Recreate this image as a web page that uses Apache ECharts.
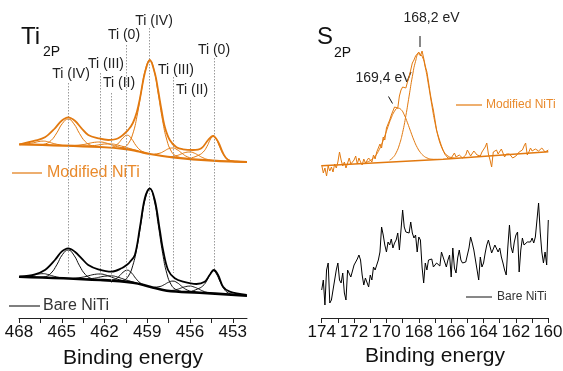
<!DOCTYPE html>
<html>
<head>
<meta charset="utf-8">
<script src="https://cdn.jsdelivr.net/npm/echarts@6/dist/echarts.min.js"></script>
<style>
  html, body { margin: 0; padding: 0; background: #fff; }
  #chart { width: 563px; height: 371px; }
</style>
</head>
<body>
<div id="chart"></div>
<script>
// ---- Ti 2p panel (binding energy eV, intensity a.u.) ----
const tiTicks = [468, 465, 462, 459, 456, 453]
const tiMinorTicks = [468, 466.5, 465, 463.5, 462, 460.5, 459, 457.5, 456, 454.5, 453]

const modEnvelope = [[467.93,173.7],[466.88,177.3],[466.18,180.7],[465.48,189.7],[465.01,197.3],[464.55,200.7],[464.08,197.3],[463.61,189.7],[463.14,183],[462.44,179.7],[461.74,178],[461.04,179.7],[460.34,188],[460.01,195],[459.73,206],[459.52,219],[459.17,245],[458.82,258],[458.47,245],[458.24,228],[458.0,208],[457.77,191.3],[457.42,178],[456.95,170.7],[456.49,168.7],[455.79,168],[455.2,169.7],[454.73,178],[454.38,182],[454.03,176.3],[453.68,164.7],[453.33,158],[452.74,156.3],[452.02,156]]
const modBg = [[468,173.7],[462.3,171],[460.36,168.7],[459.6,166.5],[458.82,164],[457.2,160.7],[454.4,157.3],[452,156]]
const modSmall = [[467.6,173.9],[467.0,175.2],[466.6,176.5],[466.3,176.9],[466.0,176.3],[465.6,174.6],[465.0,172.7]]
const modIVa = [[466.55,173.2],[466.15,174.1],[465.75,177.5],[465.35,185.1],[464.95,194.6],[464.55,199],[464.15,194.2],[463.75,184.4],[463.35,176.4],[462.95,172.6],[462.55,171.3]]
const modIIIa = [[464.3,172.3],[463.5,173.4],[463.1,174.6],[462.7,175.7],[462.3,176],[461.9,175],[461.5,173.2],[461.1,171.4],[460.3,168.9]]
const modIIa = [[463.5,171.9],[462.7,172.5],[462.3,173.4],[461.9,174.0],[461.5,174.0],[461.1,173.0],[460.7,171.5],[460.3,169.8],[459.5,166.3]]
const mod0a = [[461.6,170.5],[461.3,171.6],[461.0,175.1],[460.7,180.2],[460.4,182.8],[460.1,179.1],[459.8,172.7],[459.5,168.0],[459.2,165.6]]
const modIVb = [[461.02,169.8],[460.62,170.8],[460.32,174.6],[460.02,183.9],[459.72,201.7],[459.42,226.3],[459.12,249.1],[458.82,258],[458.52,247.6],[458.22,223.3],[457.92,197.2],[457.62,177.8],[457.32,166.9],[457.02,162.3],[456.62,160.3]]
const modIIIb = [[458.5,163.9],[458.1,164.9],[457.8,167.0],[457.5,169.3],[457.2,170.0],[456.9,168.3],[456.6,165.1],[456.3,162.0],[455.9,159.7]]
const modIIb = [[457.7,161.4],[457.3,161.4],[456.9,162.5],[456.6,164.1],[456.3,165.6],[456.0,166.0],[455.7,164.9],[455.4,162.6],[455.1,160.3],[454.7,158.3],[454.3,157.3]]
const mod0b = [[455.9,160.1],[455.5,162.1],[455.1,165.6],[454.8,171.8],[454.6,177.8],[454.38,182.0],[454.15,178.7],[453.9,170.5],[453.6,162.3],[453.3,158.2],[452.9,156.7]]

const bareEnvelope = [[467.93,41.3],[466.88,43.7],[466.18,48],[465.48,58],[465.01,66.3],[464.55,69.7],[464.08,66.3],[463.61,59.7],[463.14,53],[462.44,48.7],[461.5,46.3],[460.8,49.7],[460.4,53.5],[460.22,56],[459.87,63],[459.52,90],[459.17,119.7],[458.82,129.7],[458.47,118],[458.12,88],[457.89,68],[457.54,48],[457.07,39.7],[456.49,36.3],[455.55,34],[454.97,36.3],[454.62,43],[454.33,48],[454.03,43],[453.68,31.3],[453.21,26.3],[452.02,23]]
const bareBg = [[468,41.3],[462.3,38],[460.0,35.3],[458.82,31.3],[457.63,27.3],[455.32,25.3],[452,22.3]]
const bareSmall = [[467.6,41.5],[467.0,42.7],[466.6,44.0],[466.3,44.3],[466.0,43.6],[465.6,41.9],[465.0,40.0]]
const bareIVa = [[466.55,40.5],[466.15,41.3],[465.75,44.9],[465.35,53.1],[464.95,63.4],[464.55,68.0],[464.15,62.9],[463.75,52.2],[463.35,43.6],[462.95,39.6],[462.55,38.3]]
const bareIIIa = [[464.3,39.4],[463.5,40.9],[463.1,42.3],[462.7,43.6],[462.3,44.0],[461.9,42.9],[461.5,40.9],[461.1,38.8],[460.3,36.1]]
const bareIIa = [[463.5,38.9],[462.7,39.8],[462.3,41.0],[461.9,41.9],[461.5,42.1],[461.1,41.0],[460.7,39.1],[460.3,37.3],[459.5,33.8]]
const bare0a = [[461.6,37.5],[461.3,38.4],[461.0,41.4],[460.7,45.7],[460.4,47.8],[460.1,45.0],[459.8,39.5],[459.5,35.2],[459.2,32.9]]
const bareIVb = [[461.02,36.8],[460.62,37.9],[460.32,42.0],[460.02,52.2],[459.72,70.8],[459.42,96.4],[459.12,120.1],[458.82,129.3],[458.52,118.1],[458.22,92.4],[457.92,64.8],[457.62,44.2],[457.32,33.3],[457.02,28.7],[456.62,26.7]]
const bareIIIb = [[458.5,30.8],[458.1,31.5],[457.8,33.4],[457.5,35.8],[457.2,36.9],[456.9,35.3],[456.6,31.9],[456.3,28.7],[455.9,26.4]]
const bareIIb = [[457.7,27.6],[457.3,27.6],[456.9,28.6],[456.6,30.1],[456.3,31.4],[456.0,31.9],[455.7,30.9],[455.4,29.1],[455.1,27.0],[454.7,25.3],[454.3,24.5]]
const bare0b = [[455.9,26.7],[455.5,28.8],[455.1,32.1],[454.8,37.8],[454.6,43.4],[454.38,47.4],[454.15,44.2],[453.9,36.6],[453.6,28.8],[453.3,25.0],[452.9,23.4]]

// peak guide lines: [energy, top, bottom]
const tiGuides = [[464.55,235,43],[462.3,245,43],[461.5,225,35],[460.45,273,38],[458.84,290,98],[457.2,241,45],[456.0,218,31],[454.33,260,48]]

// ---- S 2p panel ----
const sTicks = [174, 172, 170, 168, 166, 164, 162, 160]
const sEnergy = []
for (let i = 0; i <= 140; i++) sEnergy.push(+(174 - i * 0.1).toFixed(1))

const sModified = [153,145,150,142,152,147,151,146,154,150,
  156,166,158,152,156,150,155,160,154,152,
  158,162,154,160,156,153,159,155,157,160,
  160,156,163,159,166,164,174,170,181,178,
  190,194,198,203,207,211,209,210,222,228,
  231,232,230,236,241,248,255,258,262,263,
  266,262,267,260,252,246,236,225,216,208,
  198,188,182,177,172,168,164,166,160,162,
  160,158,165,161,160,163,165,160,158,163,
  168,170,162,160,167,165,163,161,162,166,
  167,171,175,164,158,151,166,168,168,164,
  166,169,165,161,164,166,164,165,160,158,
  162,164,166,166,168,172,175,163,166,170,
  167,166,169,171,167,166,170,171,166,164,168]
const sBare = [28,38,13,48,55,15,18,28,38,48,
  55,38,35,45,25,18,48,50,41,41,
  53,56,59,63,58,43,33,40,38,31,
  43,38,51,48,50,58,66,91,83,73,
  66,76,73,79,70,75,78,85,68,88,
  108,91,86,88,85,96,85,80,83,66,
  81,78,51,35,55,48,58,56,59,51,
  49,55,56,52,66,61,63,51,58,63,
  41,70,50,45,60,68,58,55,56,56,
  63,70,81,75,68,58,48,38,61,51,
  55,65,73,78,80,65,66,73,71,66,
  70,61,55,48,43,71,93,71,65,76,
  83,86,46,68,80,73,71,76,78,76,
  80,75,81,98,115,86,66,55,66,53,
  98]
const sComp1 = [[171.3,155.4],[171.0,157.4],[170.7,161.8],[170.5,166.7],[170.3,173.6],[170.1,182.1],[169.9,191.5],[169.7,200.2],[169.5,206.8],[169.3,209.8],[169.1,208.5],[168.9,203.2],[168.7,195.2],[168.5,186.3],[168.3,177.7],[168.1,170.6],[167.9,165.5],[167.7,162.1],[167.5,160.1],[167.2,158.8],[166.9,158.6]]
const sComp2 = [[169.8,157.9],[169.6,160.4],[169.4,165.2],[169.2,173.3],[169.0,185.6],[168.8,202.3],[168.6,221.9],[168.4,241.4],[168.2,256.7],[168.0,264.2],[167.8,261.9],[167.6,250.5],[167.4,232.8],[167.2,213.2],[167.0,195.2],[166.8,181.0],[166.6,171.1],[166.4,165.0],[166.2,162.0],[166.0,160.5],[165.7,159.8]]
const sBg = [[174,152.3],[166.5,158.7],[160,166.3]]

const ORANGE = '#e2790f'
const ORANGE_TEXT = '#e98a2c'
const FONT = '"Liberation Sans", Arial, sans-serif'

const chart = echarts.init(document.getElementById('chart'), null, { renderer: 'canvas' })

function line(data, axis, color, width, smooth, z) {
  return {
    type: 'line', xAxisIndex: axis, yAxisIndex: axis, data,
    symbol: 'none', smooth: smooth, animation: false, silent: true, z: z || 2,
    lineStyle: { color, width }
  }
}

const series = []
;[modSmall, modIVa, modIIIa, modIIa, mod0a, modIVb, modIIIb, modIIb, mod0b].forEach(d => series.push(line(d, 0, ORANGE, 1, 0.5, 3)))
series.push(line(modBg, 0, ORANGE, 2.2, 0.4, 4))
series.push(line(modEnvelope, 0, ORANGE, 1.8, 0.35, 5))
;[bareSmall, bareIVa, bareIIIa, bareIIa, bare0a, bareIVb, bareIIIb, bareIIb, bare0b].forEach(d => series.push(line(d, 0, '#111', 1, 0.5, 3)))
series.push(line(bareBg, 0, '#000', 2.6, 0.4, 4))
series.push(line(bareEnvelope, 0, '#000', 1.8, 0.35, 5))

// dotted guide lines
series.push({
  type: 'line', xAxisIndex: 0, yAxisIndex: 0, data: [], silent: true, z: 1,
  markLine: {
    symbol: 'none', silent: true, animation: false,
    label: { show: false },
    lineStyle: { type: [1.5, 1.5], color: '#9a9a9a', width: 1 },
    data: tiGuides.map(g => [{ coord: [g[0], g[1]] }, { coord: [g[0], g[2]] }])
  }
})

series.push(line(sEnergy.map((e, i) => [e, sModified[i]]), 1, ORANGE, 1, false, 3))
series.push(line(sComp1, 1, ORANGE, 1, 0.5, 3))
series.push(line(sComp2, 1, ORANGE, 1, 0.5, 3))
series.push(line(sBg, 1, ORANGE, 1.4, false, 3))
series.push(line(sEnergy.map((e, i) => [e, sBare[i]]), 1, '#000', 1, false, 3))

function xAxis(grid, min, max, labels, ticks, nameGap) {
  return {
    type: 'value', gridIndex: grid, min, max, inverse: true,
    name: 'Binding energy', nameLocation: 'middle', nameGap,
    nameTextStyle: { fontFamily: FONT, fontSize: 21, color: '#111' },
    axisLine: { show: true, onZero: false, lineStyle: { color: '#222', width: 1 } },
    axisTick: { show: true, length: 5, customValues: ticks, lineStyle: { color: '#222' } },
    axisLabel: { customValues: labels, fontFamily: FONT, fontSize: 17, color: '#111', margin: 6 },
    splitLine: { show: false }
  }
}

const sTickAll = []
for (let v = 174; v >= 160; v--) sTickAll.push(v)

function txt(text, x, y, size, color, align) {
  return { type: 'text', silent: true, style: { text, x, y, font: size + 'px ' + FONT, fill: color || '#222', align: align || 'center', verticalAlign: 'middle' } }
}
function seg(x1, y1, x2, y2, color, width) {
  return { type: 'line', silent: true, shape: { x1, y1, x2, y2 }, style: { stroke: color, lineWidth: width || 1 } }
}

const option = {
  animation: false,
  backgroundColor: '#fff',
  grid: [
    { left: 19, top: 18, width: 228, height: 300, containLabel: false, outerBoundsMode: 'none' },
    { left: 321.7, top: 18, width: 226.6, height: 300, containLabel: false, outerBoundsMode: 'none' }
  ],
  xAxis: [
    xAxis(0, 452, 468, tiTicks, tiMinorTicks, 30),
    xAxis(1, 160, 174, sTicks, sTickAll, 23)
  ],
  yAxis: [
    { type: 'value', gridIndex: 0, min: 0, max: 300, show: false },
    { type: 'value', gridIndex: 1, min: 0, max: 300, show: false }
  ],
  series,
  graphic: [
    txt('Ti', 21, 37, 24, '#111', 'left'),
    txt('2P', 43, 52, 14, '#111', 'left'),
    txt('S', 317, 37, 24, '#111', 'left'),
    txt('2P', 334, 53, 14, '#111', 'left'),
    txt('Ti (IV)', 71, 74, 14),
    txt('Ti (III)', 106, 64, 14),
    txt('Ti (II)', 119, 83, 14),
    txt('Ti (0)', 124, 35, 14),
    txt('Ti (IV)', 154, 21, 14),
    txt('Ti (III)', 176, 70, 14),
    txt('Ti (II)', 192, 90, 14),
    txt('Ti (0)', 214, 50, 14),
    seg(12, 173, 42, 173, ORANGE, 1.2),
    txt('Modified NiTi', 47, 173, 16, ORANGE_TEXT, 'left'),
    seg(9, 306, 40, 306, '#555', 1.5),
    txt('Bare NiTi', 43, 306, 16, '#333', 'left'),
    txt('168,2 eV', 431.5, 18, 14),
    seg(420, 36, 420, 47, '#111', 1),
    txt('169,4 eV', 383.5, 78, 14),
    seg(388.5, 96.5, 392.5, 103.5, '#111', 1),
    seg(456, 105, 482, 105, ORANGE, 1.2),
    txt('Modified NiTi', 486, 105, 12, ORANGE_TEXT, 'left'),
    seg(466, 297, 492, 297, '#111', 1),
    txt('Bare NiTi', 497, 297, 12, '#333', 'left')
  ]
}

chart.setOption(option)
</script>
</body>
</html>
